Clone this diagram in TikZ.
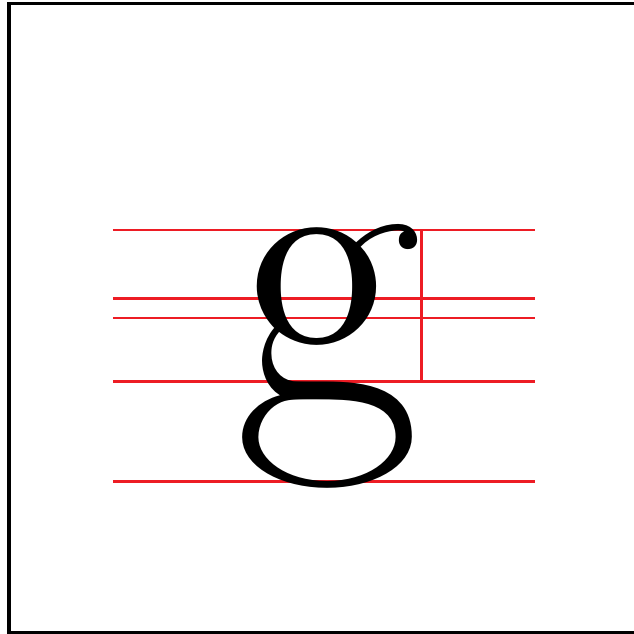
\documentclass[tikz,border=0pt]{standalone}
\definecolor{guidered}{RGB}{237,28,36}
\begin{document}
\begin{tikzpicture}[x=0.5pt, y=-0.5pt,
    frame/.style={draw=black, line width=1.5pt},
    guide/.style={draw=guidered, line width=1.2pt},
    glyph/.style={inner sep=0pt, anchor=base, font=\fontsize{203}{203}\selectfont}
  ]
    \useasboundingbox (0,0) rectangle (634,634);
    \draw[frame] (9,3) rectangle (640,632.5);
    % guide lines under the letter
    \foreach \y in {230, 298.5, 318, 381.5, 481.5}
      \draw[guide] (113,\y) -- (535,\y);
    \draw[guide] (421.5,230) -- (421.5,381.5);
    \node[glyph] (g) at (328,405) {g};
\end{tikzpicture}
\end{document}
